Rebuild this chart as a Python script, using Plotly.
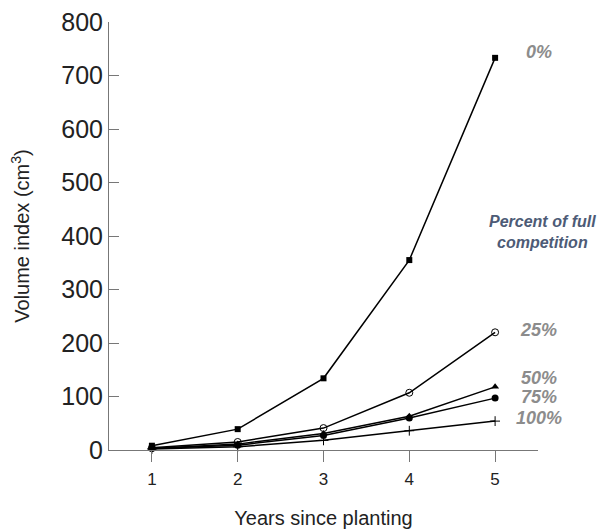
import plotly.graph_objects as go

years = [1, 2, 3, 4, 5]
series_names = ["0%", "25%", "50%", "75%", "100%"]
v0 = [8, 39, 134, 355, 733]
v25 = [4, 15, 41, 107, 220]
v50 = [3, 11, 31, 63, 118]
v75 = [3, 9, 27, 60, 97]
v100 = [2, 6, 18, 36, 54]
label_y = [744, 224, 134, 99, 60]
legend_title = "Percent of full<br>competition"
y_ticks = [0, 100, 200, 300, 400, 500, 600, 700, 800]
x_ticks = [1, 2, 3, 4, 5]

markers = [
    dict(symbol="square", size=6, color="black"),
    dict(symbol="circle-open", size=7, color="black", line=dict(width=1, color="black")),
    dict(symbol="triangle-up", size=7, color="black"),
    dict(symbol="circle", size=7, color="black"),
    dict(symbol="cross-thin", size=7, color="black", line=dict(width=1, color="black")),
]
values = [v0, v25, v50, v75, v100]

fig = go.Figure()
for name, vals, mk in zip(series_names, values, markers):
    fig.add_trace(go.Scatter(x=years, y=vals, mode="lines+markers", name=name,
                             line=dict(color="black", width=1.5), marker=mk,
                             cliponaxis=False, showlegend=False))

for name, ly in zip(series_names, label_y):
    fig.add_annotation(x=1.002, y=ly, xref="paper", yref="y", text="<b><i>" + name + "</i></b>",
                       showarrow=False, xanchor="center", yanchor="middle",
                       font=dict(family="Liberation Sans, Arial", size=18, color="#8c8c8c"))

fig.add_annotation(x=1.01, y=407, xref="paper", yref="y", text="<b><i>" + legend_title + "</i></b>",
                   showarrow=False, xanchor="center", yanchor="middle",
                   font=dict(family="Liberation Sans, Arial", size=16, color="#4d5b76"))

fig.update_layout(
    width=604, height=521,
    margin=dict(l=101, r=74, t=14, b=79),
    paper_bgcolor="white", plot_bgcolor="white",
    font=dict(family="Liberation Sans, Arial", color="#222"),
    xaxis=dict(range=[0.5, 5.5], tickvals=x_ticks, ticks="outside", ticklen=11,
               tickcolor="#777", showline=True, linecolor="#777", linewidth=1,
               showgrid=False, zeroline=False, automargin=False, ticklabelstandoff=3,
               ticklabeloverflow="allow",
               tickfont=dict(size=17, color="#222"),
               title=dict(text="Years since planting", font=dict(size=20, color="#222"), standoff=22)),
    yaxis=dict(range=[0, 800], tickvals=y_ticks, ticks="inside", ticklen=10,
               tickcolor="#777", showline=True, linecolor="#777", linewidth=1,
               showgrid=False, zeroline=False, automargin=False,
               ticklabeloverflow="allow",
               tickfont=dict(size=25, color="#222"),
               title=dict(text="Volume index (cm<sup>3</sup>)", font=dict(size=20, color="#222"), standoff=28)),
)

fig.write_html("out.html")
